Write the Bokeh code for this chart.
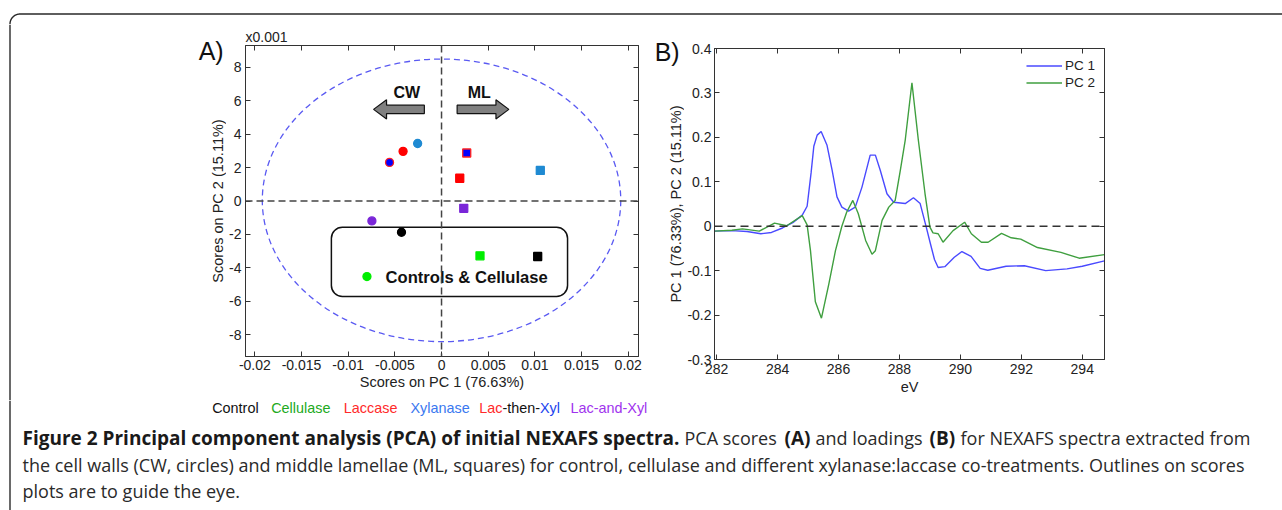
import numpy as np
from bokeh.plotting import figure
from bokeh.models import (Range1d, FixedTicker, LinearAxis, Span, BoxAnnotation,
                          CustomJSTickFormatter, Legend, LegendItem, ColumnDataSource)
from bokeh.layouts import column, row
from bokeh.embed import file_html
from bokeh.resources import INLINE
from bokeh.core.properties import value

# ---------------- data ----------------
treatments = ["Control", "Cellulase", "Laccase", "Xylanase", "Lac-then-Xyl", "Lac-and-Xyl"]
# scores (PC2 in units of 0.001)
cw_pc1 = [-0.00429, -0.00799, -0.00412, -0.00256, -0.00557, -0.00746]
cw_pc2 = [-1.87, -4.52, 2.97, 3.44, 2.31, -1.19]
ml_pc1 = [0.01030, 0.00412, 0.00195, 0.01058, 0.00270, 0.00238]
ml_pc2 = [-3.32, -3.28, 1.36, 1.83, 2.87, -0.44]

pc1_ev = [281.93, 282.5, 283.0, 283.45, 283.8, 284.16, 284.5, 284.81, 284.97, 285.1, 285.19,
          285.3, 285.43, 285.62, 285.79, 285.95, 286.11, 286.33, 286.55, 286.77, 287.04, 287.21,
          287.37, 287.59, 287.81, 288.19, 288.46, 288.68, 288.88, 289.0, 289.15, 289.27, 289.49,
          289.8, 290.05, 290.35, 290.65, 290.9, 291.5, 292.1, 292.8, 293.5, 294.0, 294.73]
pc1_loading = [-0.011, -0.010, -0.012, -0.017, -0.014, -0.004, 0.008, 0.025, 0.045, 0.120, 0.180,
               0.205, 0.213, 0.183, 0.126, 0.066, 0.043, 0.034, 0.043, 0.088, 0.160, 0.160,
               0.126, 0.073, 0.054, 0.051, 0.064, 0.051, -0.002, -0.035, -0.075, -0.093, -0.091,
               -0.070, -0.057, -0.068, -0.095, -0.099, -0.090, -0.089, -0.100, -0.096, -0.090, -0.078]
pc2_ev = [281.93, 282.5, 282.85, 283.4, 283.9, 284.3, 284.81, 284.97, 285.08, 285.24, 285.44,
          285.68, 285.9, 286.11, 286.27, 286.47, 286.65, 286.89, 287.1, 287.21, 287.43, 287.65,
          287.86, 288.03, 288.19, 288.41, 288.62, 288.84, 289.0, 289.1, 289.27, 289.43, 289.76,
          290.14, 290.36, 290.69, 290.91, 291.35, 291.67, 291.98, 292.53, 293.3, 293.9, 294.73]
pc2_loading = [-0.011, -0.009, -0.006, -0.011, 0.007, 0.001, 0.024, 0.003, -0.055, -0.170, -0.207,
               -0.131, -0.055, 0.000, 0.032, 0.058, 0.028, -0.032, -0.063, -0.055, 0.013, 0.043,
               0.058, 0.126, 0.194, 0.323, 0.194, 0.073, -0.002, -0.015, -0.017, -0.036, -0.010,
               0.009, -0.017, -0.036, -0.036, -0.016, -0.026, -0.029, -0.048, -0.059, -0.072, -0.064]

scores_x_ticks = [-0.02, -0.015, -0.01, -0.005, 0, 0.005, 0.01, 0.015, 0.02]
scores_y_ticks = [-8, -6, -4, -2, 0, 2, 4, 6, 8]
load_x_ticks = [282, 284, 286, 288, 290, 292, 294]
load_y_ticks = [-0.3, -0.2, -0.1, 0, 0.1, 0.2, 0.3, 0.4]

# guide shapes on the scores plot
ellipse_guide = dict(cx=0.0, cy=0.04, w=0.0384, h=16.9)
outline_guide = dict(left=-0.0118, right=0.0135, top=-1.57, bottom=-5.71)
cw_arrow = dict(tip=-0.00728, base=-0.00589, tail=-0.00184, y=5.48)
ml_arrow = dict(tip=0.00721, base=0.00583, tail=0.00167, y=5.48)

# ---------------- styles ----------------
FONT = "Liberation Sans"
CAP = "Open Sans"
marker_fill = ["#000000", "#00ee00", "#ff0000", "#1f8ad2", "#0000ff", "#7a26d8"]
marker_line = ["#000000", "#00ee00", "#ff0000", "#1f8ad2", "#ff2020", "#7a26d8"]
AX = "#333333"
BC = "#2a2a2a"
W = 1282


def style_axis(ax, ticks, labels=True, fs="14px"):
    ax.ticker = FixedTicker(ticks=ticks)
    ax.major_tick_in = 5
    ax.major_tick_out = 0
    ax.minor_tick_line_color = None
    ax.axis_line_color = AX
    ax.major_tick_line_color = AX
    if labels:
        ax.formatter = CustomJSTickFormatter(code="return String(tick);")
        ax.major_label_text_font = FONT
        ax.major_label_text_font_size = fs
        ax.major_label_text_color = "#222222"
        ax.axis_label_text_font = FONT
        ax.axis_label_text_font_size = "14.5px"
        ax.axis_label_text_font_style = "normal"
        ax.axis_label_text_color = "#222222"
    else:
        ax.formatter = CustomJSTickFormatter(code="return '';")
        ax.major_label_text_font_size = "0px"
        ax.major_label_standoff = 0


class Blank:
    """A plain drawing area positioned at page offset (ox, oy)."""

    def __init__(self, ox, oy, w, h):
        self.ox, self.oy, self.h = ox, oy, h
        f = figure(width=w, height=h, x_range=Range1d(0, w), y_range=Range1d(0, h), title=None,
                   output_backend="svg", toolbar_location=None, x_axis_type=None,
                   y_axis_type=None, min_border=0, min_border_left=0, min_border_right=0,
                   min_border_top=0, min_border_bottom=0)
        f.grid.visible = False
        f.outline_line_color = None
        self.fig = f

    def X(self, px):
        return [p - self.ox for p in px]

    def Y(self, py):
        return [self.h - (p - self.oy) for p in py]

    def line(self, px, py, **kw):
        self.fig.line(self.X(px), self.Y(py), **kw)

    def text(self, px, py, s, color, font, size, bold=False, align="left", angle=0.0):
        self.fig.text(x=self.X([px]), y=self.Y([py]), text=[s], text_font=value(font),
                      text_font_size=size, text_font_style="bold" if bold else "normal",
                      text_color=color, text_align=align, text_baseline="middle", angle=angle)


# ---------------- top edge of the outline ----------------
top = Blank(0, 0, W, 24)
t = np.linspace(np.pi, 1.5 * np.pi, 24)
top.line(list(19.5 + 10 * np.cos(t)) + [W], list(23.5 + 10 * np.sin(t)) + [13.5],
         line_color=BC, line_width=1.4)
top.line([9.5, 9.5], [23.5, 24], line_color=BC, line_width=1.4)

# ---------------- gutter left of panel A ----------------
gA = Blank(0, 24, 226, 376)
gA.line([9.5, 9.5], [24, 400], line_color=BC, line_width=1.4)
gA.text(210.7, 50.7, "A)", "#111111", FONT, "25px", align="center")
gA.text(217.0, 200.5, "Scores on PC 2 (15.11%)", "#222222", FONT, "14.5px", align="center",
        angle=np.pi / 2)

# ---------------- panel A ----------------
pA = figure(width=419, height=376, x_range=Range1d(-0.021, 0.0211), y_range=Range1d(-9.3, 9.3),
            output_backend="svg", toolbar_location=None, x_axis_type=None, y_axis_type=None,
            title="x0.001",
            min_border_left=17, min_border_right=7, min_border_top=21, min_border_bottom=44)
pA.title.align = "left"
pA.title.text_font = FONT
pA.title.text_font_size = "14px"
pA.title.text_font_style = "normal"
pA.title.text_color = "#222222"
pA.title.standoff = 2
pA.grid.visible = False
pA.outline_line_color = AX

axb = LinearAxis(axis_label="Scores on PC 1 (76.63%)")
style_axis(axb, scores_x_ticks)
axb.major_label_standoff = 3
axb.axis_label_standoff = 1
pA.add_layout(axb, "below")
axl = LinearAxis()
style_axis(axl, scores_y_ticks)
axl.major_label_standoff = 4
pA.add_layout(axl, "left")
axt = LinearAxis()
style_axis(axt, scores_x_ticks, labels=False)
pA.add_layout(axt, "above")
axr = LinearAxis()
style_axis(axr, scores_y_ticks, labels=False)
pA.add_layout(axr, "right")

pA.add_layout(Span(location=0, dimension="width", line_color="#444444", line_dash="7 4", line_width=1.5))
pA.add_layout(Span(location=0, dimension="height", line_color="#444444", line_dash="7 4", line_width=1.5))

pA.ellipse(x=[ellipse_guide["cx"]], y=[ellipse_guide["cy"]], width=[ellipse_guide["w"]],
           height=[ellipse_guide["h"]], fill_color=None, line_color="#5a5af2",
           line_dash="6 4", line_width=1.3)

pA.add_layout(BoxAnnotation(left=outline_guide["left"], right=outline_guide["right"],
                            top=outline_guide["top"], bottom=outline_guide["bottom"],
                            fill_color=None, fill_alpha=0, line_color="#111111", line_alpha=1.0,
                            line_width=1.5, border_radius=11, level="underlay"))


def arrow_poly(a, sh=0.25, hh=0.57):
    xs = [a["tip"], a["base"], a["base"], a["tail"], a["tail"], a["base"], a["base"]]
    ys = [a["y"], a["y"] + hh, a["y"] + sh, a["y"] + sh, a["y"] - sh, a["y"] - sh, a["y"] - hh]
    return xs, ys


cwx, cwy = arrow_poly(cw_arrow)
mlx, mly = arrow_poly(ml_arrow)
pA.patches(xs=[cwx, mlx], ys=[cwy, mly], fill_color="#808080", line_color="#111111", line_width=1.2)

pA.text(x=[-0.00373, 0.00405], y=[6.50, 6.50], text=["CW", "ML"], text_font=value(FONT),
        text_font_style="bold", text_font_size="16px", text_align="center",
        text_baseline="middle", text_color="#111111")
pA.text(x=[-0.00600], y=[-4.58], text=["Controls & Cellulase"], text_font=value(FONT),
        text_font_style="bold", text_font_size="16.6px", text_align="left",
        text_baseline="middle", text_color="#111111")

src_cw = ColumnDataSource(dict(x=cw_pc1, y=cw_pc2, f=marker_fill, l=marker_line, t=treatments))
src_ml = ColumnDataSource(dict(x=ml_pc1, y=ml_pc2, f=marker_fill, l=marker_line, t=treatments))
pA.scatter("x", "y", source=src_cw, marker="circle", size=8, fill_color="f", line_color="l", line_width=1.3)
pA.scatter("x", "y", source=src_ml, marker="square", size=8, fill_color="f", line_color="l", line_width=1.3)

# ---------------- gutter left of panel B ----------------
gB = Blank(645, 24, 39, 376)
gB.text(666.7, 51.7, "B)", "#111111", FONT, "25px", align="center")
gB.text(675.5, 203.5, "PC 1 (76.33%), PC 2 (15.11%)", "#222222", FONT, "14.5px", align="center",
        angle=np.pi / 2)

# ---------------- panel B ----------------
pB = figure(width=598, height=376, x_range=Range1d(281.93, 294.73), y_range=Range1d(-0.3, 0.4),
            output_backend="svg", toolbar_location=None, x_axis_type=None, y_axis_type=None,
            title=None,
            min_border_left=28, min_border_right=178, min_border_top=24, min_border_bottom=41)
pB.grid.visible = False
pB.outline_line_color = AX

bxb = LinearAxis(axis_label="eV")
style_axis(bxb, load_x_ticks)
bxb.major_label_standoff = 4
bxb.axis_label_standoff = 2
pB.add_layout(bxb, "below")
bxl = LinearAxis()
style_axis(bxl, load_y_ticks)
bxl.major_label_standoff = 3
pB.add_layout(bxl, "left")
bxt = LinearAxis()
style_axis(bxt, load_x_ticks, labels=False)
pB.add_layout(bxt, "above")
bxr = LinearAxis()
style_axis(bxr, load_y_ticks, labels=False)
pB.add_layout(bxr, "right")

pB.add_layout(Span(location=0, dimension="width", line_color="#333333", line_dash="8 5", line_width=1.4))
r1 = pB.line(pc1_ev, pc1_loading, line_color="#4a4aff", line_width=1.4)
r2 = pB.line(pc2_ev, pc2_loading, line_color="#3f9f3f", line_width=1.4)

leg = Legend(items=[LegendItem(label="PC 1", renderers=[r1]), LegendItem(label="PC 2", renderers=[r2])],
             location="top_right", border_line_color=None, background_fill_alpha=0, margin=9,
             padding=0, spacing=0, glyph_width=36, glyph_height=17, label_height=17,
             label_standoff=3, label_text_font=FONT, label_text_font_size="13.5px",
             label_text_color="#222222")
pB.add_layout(leg)

# ---------------- key and caption ----------------
cap = Blank(0, 400, W, 110)
cap.line([9.5, 9.5], [400, 510], line_color=BC, line_width=1.4)

ky = 407
KS = "14.4px"
cap.text(211.7, ky, "Control", "#111111", FONT, KS)
cap.text(270.7, ky, "Cellulase", "#22aa22", FONT, KS)
cap.text(343.3, ky, "Laccase", "#ff2a2a", FONT, KS)
cap.text(410.0, ky, "Xylanase", "#3a78f0", FONT, KS)
cap.text(478.7, ky, "Lac", "#ff2a2a", FONT, KS)
cap.text(501.9, ky, "-then-", "#111111", FONT, KS)
cap.text(539.5, ky, "Xyl", "#2244ee", FONT, KS)
cap.text(570.0, ky, "Lac-and-Xyl", "#a033ee", FONT, KS)

CC = "#2a2a2a"
CB = "#1a1a1a"
CS = "18px"
CSB = "19px"
l1, l2, l3 = 437, 464, 490
cap.text(22, l1, "Figure 2 Principal component analysis (PCA) of initial NEXAFS spectra.", CB, CAP, CSB, True)
cap.text(684, l1, "PCA scores", CC, CAP, CS)
cap.text(784, l1, "(A)", CB, CAP, CSB, True)
cap.text(815, l1, "and loadings", CC, CAP, CS)
cap.text(929, l1, "(B)", CB, CAP, CSB, True)
cap.text(960, l1, "for NEXAFS spectra extracted from", CC, CAP, CS)
cap.text(22, l2, "the cell walls (CW, circles) and middle lamellae (ML, squares) for control, cellulase and "
         "different xylanase:laccase co-treatments. Outlines on scores", CC, CAP, CS)
cap.text(22, l3, "plots are to guide the eye.", CC, CAP, CS)

layout = column(top.fig,
                row(column(gA.fig), column(pA), column(gB.fig), column(pB)),
                cap.fig)
open("out.html", "w").write(file_html(layout, INLINE))
